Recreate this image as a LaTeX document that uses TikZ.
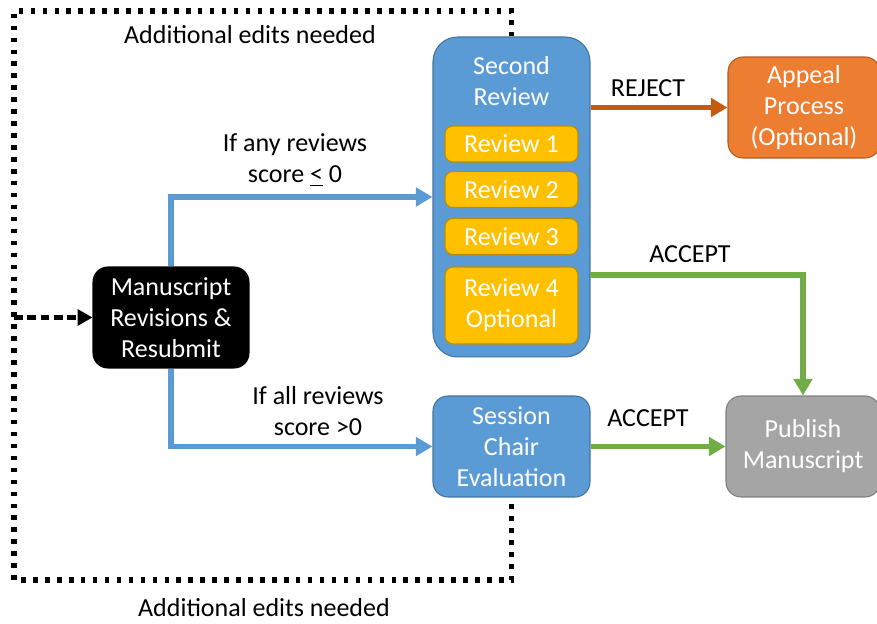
\documentclass[tikz,border=0pt]{standalone}
\usepackage{fontspec}
\setmainfont{Carlito}
\usetikzlibrary{arrows.meta}
\definecolor{stepblue}{HTML}{5B9BD5}
\definecolor{stepblueline}{HTML}{41719C}
\definecolor{revgold}{HTML}{FFC000}
\definecolor{revgoldline}{HTML}{BC8C00}
\definecolor{appealorange}{HTML}{ED7D31}
\definecolor{appealline}{HTML}{AE5A21}
\definecolor{rejectorange}{HTML}{C55A11}
\definecolor{pubgray}{HTML}{A5A5A5}
\definecolor{pubgrayline}{HTML}{7F7F7F}
\definecolor{acceptgreen}{HTML}{70AD47}
\begin{document}
\begin{tikzpicture}[x=0.02cm, y=-0.02cm,
  every node/.style={font=\fontsize{14.8}{17.6}\selectfont, align=center},
  stepbox/.style={draw=stepblueline, fill=stepblue, text=white, line width=0.6pt,
    rounded corners=8.5pt, minimum width=3.14cm, minimum height=2.02cm},
  revbox/.style={draw=revgoldline, fill=revgold, text=white, line width=0.6pt,
    rounded corners=4.5pt, minimum width=2.66cm, minimum height=0.72cm, inner sep=0pt},
  flow/.style={line width=3pt, -{Triangle[length=9.5pt,width=10.5pt]}},
  loopline/.style={line width=2.9pt, dash pattern=on 2.6pt off 4.2pt}]
\useasboundingbox (0,0) rectangle (877,624);
% boxes
\node[stepbox, draw=black, fill=black, minimum width=3.12cm] (ms) at (171,317.5) {Manuscript\\Revisions \&\\Resubmit};
\node[stepbox, rounded corners=14pt, minimum height=6.4cm] (sr) at (511.5,197) {};
\node[text=white] (srtitle) at (511.5,81.5) {Second\\Review};
\node[revbox] (rev1) at (511.5,144) {Review 1};
\node[revbox] (rev2) at (511.5,189.5) {Review 2};
\node[revbox] (rev3) at (511.5,236.5) {Review 3};
\node[revbox, minimum height=1.54cm] (rev4) at (511.5,305.5) {Review 4\\Optional};
\node[stepbox] (sc) at (511.5,446.5) {Session\\Chair\\Evaluation};
\node[stepbox, draw=appealline, fill=appealorange, minimum width=3.04cm] (ap) at (804,107.5) {Appeal\\Process\\(Optional)};
\node[stepbox, draw=pubgrayline, fill=pubgray, minimum width=3.08cm] (pub) at (803,446.5) {Publish\\Manuscript};
% loop back for more edits
\coordinate (tl) at (14,11);
\coordinate (bl) at (14,580);
\draw[loopline] (sr.north) |- (tl) -- (bl) -| (sc.south);
\draw[line width=2.9pt, dash pattern=on 5pt off 2.6pt, -{Triangle[length=8.5pt,width=9pt]}] (tl |- ms.west) -- (ms.west);
\node (topnote) at (250,35) {Additional edits needed};
\node (botnote) at (264,608) {Additional edits needed};
% decisions
\draw[flow, stepblue] (ms.north) |- (sr.west);
\node (anylbl) at (295,160) {If any reviews\\score \underline{<} 0};
\draw[flow, stepblue] (ms.south) |- (sc.west);
\node (alllbl) at (318,411) {If all reviews\\score >0};
\draw[flow, rejectorange] (sr.east |- ap.west) -- (ap.west);
\node (rejlbl) at (648,88) {REJECT};
\coordinate (acc) at (590,275);
\draw[flow, acceptgreen] (acc) -| (pub.north);
\node (acclbl1) at (690,254) {ACCEPT};
\draw[flow, acceptgreen] (sc.east) -- (pub.west);
\node (acclbl2) at (648,418) {ACCEPT};
\end{tikzpicture}
\end{document}
